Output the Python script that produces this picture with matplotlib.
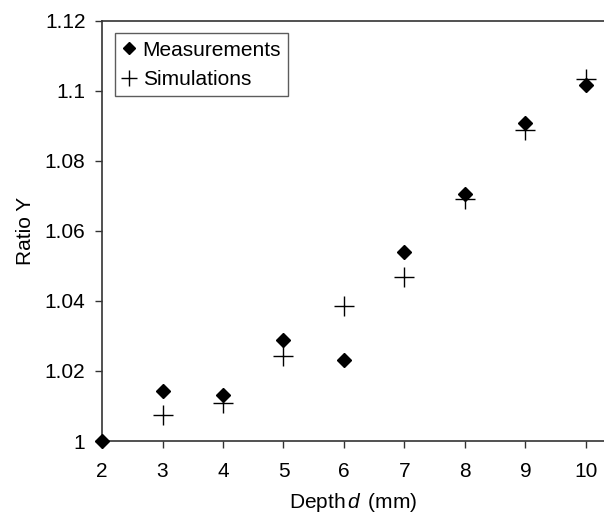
import matplotlib
matplotlib.use('Agg')
import matplotlib.pyplot as plt

plt.rcParams.update({
    'font.family': ['Liberation Sans', 'DejaVu Sans'],
    'font.size': 15,
    'mathtext.fontset': 'custom',
    'mathtext.it': 'Liberation Sans:italic',
    'mathtext.rm': 'Liberation Sans',
})

# depth values (mm)
depth = [2, 3, 4, 5, 6, 7, 8, 9, 10]
# ratio Y
measurements = [1.000, 1.0143, 1.0131, 1.0289, 1.0231, 1.0539, 1.0705, 1.0908, 1.1017]
sim_depth = [3, 4, 5, 6, 7, 8, 9, 10]
simulations = [1.0074, 1.0109, 1.0242, 1.0385, 1.0469, 1.0691, 1.0889, 1.1033]

y_ticks = [1.0, 1.02, 1.04, 1.06, 1.08, 1.10, 1.12]
y_tick_labels = ['1', '1.02', '1.04', '1.06', '1.08', '1.1', '1.12']
x_ticks = [2, 3, 4, 5, 6, 7, 8, 9, 10]

fig = plt.figure(figsize=(6.04, 5.17), dpi=100)
ax = fig.add_axes([0.169, 0.147, 0.831, 0.8125])

ax.plot(depth, measurements, linestyle='none', marker='D', markersize=7,
        color='black', label='Measurements', clip_on=False, zorder=3)
ax.plot(sim_depth, simulations, linestyle='none', marker='+', markersize=15,
        markeredgewidth=1.0, color='black', label='Simulations', clip_on=False, zorder=3)

ax.set_xlim(2, 10.3)
ax.set_ylim(1.0, 1.12)
ax.set_xticks(x_ticks)
ax.set_xticklabels([str(v) for v in x_ticks])
ax.set_yticks(y_ticks)
ax.set_yticklabels(y_tick_labels)

ax.spines['right'].set_visible(False)
for s in ['left', 'bottom', 'top']:
    ax.spines[s].set_linewidth(1.2)
    ax.spines[s].set_color('#333333')
ax.tick_params(direction='out', length=5, width=1.0, colors='#333333',
               labelcolor='black', labelsize=15)
ax.tick_params(axis='x', pad=10)
ax.tick_params(axis='y', pad=7)

ax.set_xlabel(r'Depth$\,d\,$ (mm)', fontsize=15, labelpad=7)
ax.set_ylabel('Ratio Y', fontsize=15, labelpad=7)

leg = ax.legend(loc='upper left', bbox_to_anchor=(0.0, 1.0), frameon=True,
                fancybox=False, edgecolor='#333333', fontsize=15,
                handlelength=0.7, handletextpad=0.3, borderpad=0.35,
                labelspacing=0.5, borderaxespad=0.6)
leg.get_frame().set_linewidth(1.0)
# smaller legend markers, like the original
for h in leg.legend_handles:
    h.set_markersize(6 if h.get_marker() == 'D' else 12)

fig.savefig('out.png', dpi=100)
